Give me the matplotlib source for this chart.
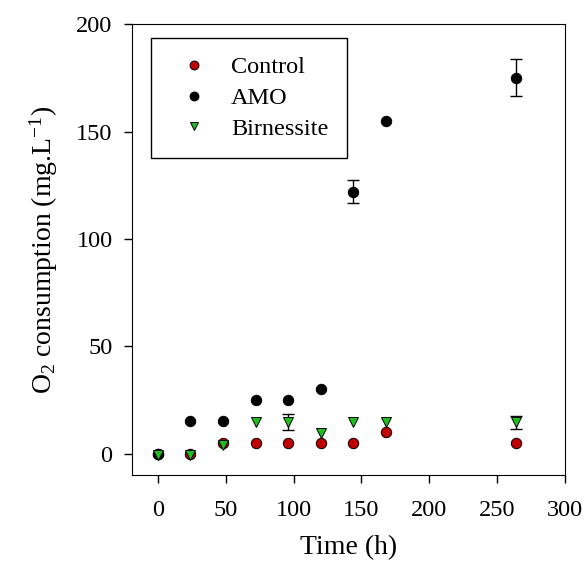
import matplotlib
matplotlib.use("Agg")
import matplotlib.pyplot as plt

plt.rcParams["font.family"] = ["Liberation Serif", "DejaVu Serif"]
plt.rcParams["mathtext.fontset"] = "custom"
plt.rcParams["mathtext.rm"] = "Liberation Serif"
plt.rcParams["mathtext.it"] = "Liberation Serif"

time_h = [0, 24, 48, 72, 96, 120, 144, 168, 264]

control = [0, 0, 5, 5, 5, 5, 5, 10, 5]
control_err = [0, 0, 0, 0, 0, 0, 0, 0, 0]

amo = [0, 15, 15, 25, 25, 30, 122, 155, 175]
amo_err = [0, 0, 0, 0, 0, 0, 5.5, 0, 8.6]

birnessite = [-0.5, -0.5, 4, 14.5, 14.5, 9.5, 14.5, 14.5, 14.5]
birnessite_err = [0, 0, 0, 0, 3.7, 0, 0, 0, 3.0]

fig = plt.figure(figsize=(5.86, 5.63), dpi=100)
ax = fig.add_axes([0.2253, 0.1563, 0.7387, 0.8007])

series = [
    ("Control", control, control_err, "o", "#c00000"),
    ("AMO", amo, amo_err, "o", "black"),
    ("Birnessite", birnessite, birnessite_err, "v", "#1fbf1f"),
]
for label, vals, errs, mk, col in series:
    ax.errorbar(time_h, vals, yerr=[e if e > 0 else float("nan") for e in errs],
                fmt="none", ecolor="black", elinewidth=1, capsize=4.5, capthick=1)
    ax.plot(time_h, vals, linestyle="none", marker=mk, markersize=7.5,
            markerfacecolor=col, markeredgecolor="black", markeredgewidth=0.7,
            label=label)

ax.set_xlim(-19, 300)
ax.set_ylim(-10, 200)
ax.set_xticks([0, 50, 100, 150, 200, 250, 300])
ax.set_yticks([0, 50, 100, 150, 200])
ax.tick_params(direction="out", length=6, width=1, labelsize=17.5)
ax.tick_params(axis="x", pad=12)
ax.tick_params(axis="y", pad=8)
ax.set_xlabel("Time (h)", fontsize=20, labelpad=10)
ax.set_ylabel(r"O$_2$ consumption (mg.L$^{-1}$)", fontsize=20, labelpad=12)

leg = ax.legend(loc="upper left", fontsize=17.5, markerscale=0.85, frameon=True,
                fancybox=False, edgecolor="black", framealpha=1,
                borderpad=0.75, handlelength=2.0, handletextpad=0.55,
                labelspacing=0.36, borderaxespad=0,
                bbox_to_anchor=((151 - 132) / 433, 1 - (38 - 24) / 451))
leg.get_frame().set_linewidth(1)

fig.savefig("out.png", dpi=100)
